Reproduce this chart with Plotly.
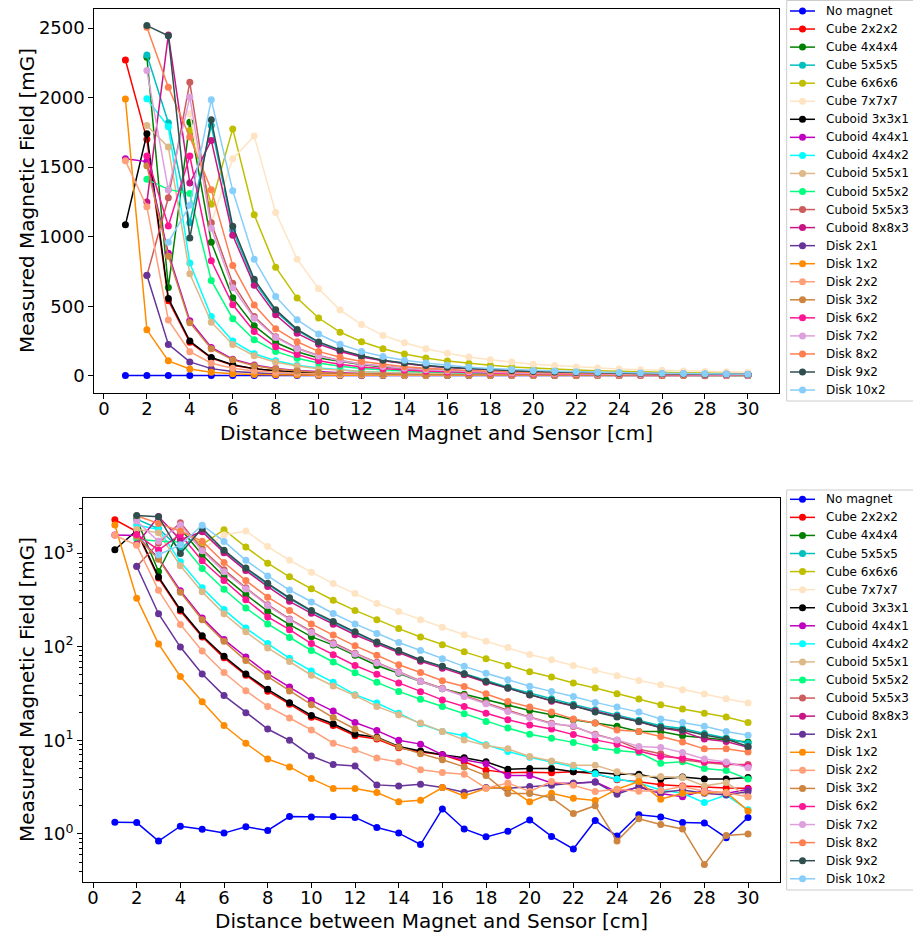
import plotly.graph_objects as go

# Distance between magnet and sensor [cm]
distance_cm = list(range(1, 31))

# Measured field [mG] per magnet, one value per distance (None = not measured)
no_magnet = [1.33, 1.32, 0.84, 1.21, 1.12, 1.02, 1.19, 1.09, 1.53, 1.52, 1.53, 1.50, 1.17, 1.02, 0.77,
             1.85, 1.13, 0.93, 1.07, 1.41, 0.94, 0.69, 1.39, 0.95, 1.60, 1.52, 1.32, 1.31, 0.91, 1.50]
cube_2x2x2 = [2270, 1700, 540, 240, 127, 76, 49.5, 33.5, 24.3, 17.6, 14.4, 11.2, 10.3, 8.3, 7.5,
              7.0, 5.9, 4.8, 4.5, 4.55, 4.5, 4.6, 4.4, 3.8, 3.6, 3.35, 3.25, 3.15, 3.1, 3.08]
cube_4x4x4 = [None, 2290, 635, 1823, 960, 560, 360, 239, 172, 128, 104, 81, 63, 52, 42.5,
              35.5, 31, 27, 24, 20.8, 18.7, 16.6, 15.3, 14.1, 12.4, 12.4, 11.2, 10.7, 10.1, 9.6]
cube_5x5x5 = [None, 2307, 1819, 1100, 1800, 1046, 675, 462, 326, 238, 181, 141, 110, 89, 72,
              61, 51.5, 43, 37, 32, 27.7, 24.2, 21.2, 18.6, 16.4, 14.3, 13.4, 11.8, 10.6, 9.3]
cube_6x6x6 = [None, None, None, 1764, 1233, 1775, 1158, 780, 558, 415, 313, 244, 194, 156, 127,
              105, 88, 74.5, 63, 54, 47.4, 41, 36.2, 31.4, 27.6, 24, 21.6, 19.5, 17.7, 15.5]
cube_7x7x7 = [None, None, None, 1884, 1100, 1561, 1723, 1173, 838, 625, 472, 369, 290, 237, 194,
              161, 134, 114, 98, 82.5, 72.6, 63, 55.8, 49, 43.6, 39.2, 34.7, 31.2, 27.8, 25]
cuboid_3x3x1 = [1085, 1740, 556, 249, 131, 79, 51, 35, 25.2, 18.4, 15, 11.6, 10.8, 8.6, 7.7,
                7.0, 6.5, 5.9, 4.9, 5.0, 5.0, 4.6, 4.55, 4.35, 4.35, 3.85, 4.05, 3.87, 3.85, 4.0]
cuboid_4x4x1 = [1560, 1540, 880, 396, 203, 119, 77.6, 51.4, 37, 26.7, 20.5, 15.5, 12.7, 10.0, 9.1,
                7.0, 6.2, 5.6, 4.2, 4.2, 3.5, 3.45, 3.6, 2.8, 3.15, 2.7, 2.5, 2.9, 2.7, 3.0]
cuboid_4x4x2 = [None, 1991, 1790, 810, 425, 249, 158, 108, 75, 55, 41.6, 30.7, 25, 19.5, 15,
                12.4, 11.2, 8.95, 7.6, 6.6, 5.9, 5.2, 4.4, 3.85, 3.5, 2.95, 2.72, 2.16, 2.6, 1.81]
cuboid_5x5x1 = [None, 1800, 1644, 733, 385, 225, 144, 97, 69.5, 49.5, 38, 30, 23, 18.7, 15.3,
                12.4, 10.1, 8.8, 8.1, 6.7, 6.0, 5.4, 5.4, 4.6, 4.1, 4.1, 4.0, 3.26, 3.54, 2.5]
cuboid_5x5x2 = [None, 1412, 1340, 1310, 685, 410, 259, 175, 125, 91, 68.6, 52.5, 41.6, 33.3, 27.4,
                23, 19.2, 15.9, 13.5, 11.6, 10.5, 9.5, 8.4, 7.8, 7.4, 5.7, 5.9, 5.0, 4.75, 3.85]
cuboid_5x5x3 = [None, 720, 1280, 2110, 1100, 665, 425, 281, 198, 146, 110, 85, 68, 54, 43,
                36, 30, 25, 21, 17.8, 15.2, 14, 11.6, 10.0, 8.0, 7.2, 6.2, 5.8, 5.5, 5.5]
cuboid_8x8x3 = [None, 1249, 2451, 1386, 1692, 1010, 650, 438, 305, 227, 174, 134, 107, 87, 70,
                59, 50, 41.6, 36, 30.5, 26.2, 23.2, 20.5, 18, 15.8, 13.6, 12.4, 10.3, 9.7, 8.4]
disk_2x1 = [None, 722, 225, 99, 51, 30, 19.7, 13.2, 10, 6.8, 5.5, 5.3, 3.34, 3.24, 3.4,
            3.13, 2.79, 3.13, 3.08, 3.2, 3.3, 3.5, 3.57, 2.66, 3.2, 2.77, 2.95, 2.72, 2.6, 2.84]
disk_1x2 = [1990, 330, 107, 48, 25.8, 14.4, 9.3, 6.3, 5.2, 3.9, 3.05, 3.05, 2.77, 2.2, 2.29,
            3.13, 2.55, 3.08, 3.15, 2.2, 2.72, 2.41, 2.27, 3.0, 3.62, 2.35, 2.72, 2.77, 2.79, 1.76]
disk_2x2 = [1545, 1215, 400, 173, 90, 53, 33.8, 23, 17.3, 12.9, 9.3, 7.9, 6.45, 5.85, 4.84,
            4.53, 4.35, 3.08, 3.5, 2.84, 3.62, 3.3, 2.84, 3.0, 2.85, 2.9, 3.2, 2.85, 2.75, 2.5]
disk_3x2 = [None, 1510, 860, 381, 194, 114, 71, 48, 33.6, 24, 17.5, 13.2, 10.6, 8.5, 7.2,
            6.2, 5.2, 4.2, 2.7, 2.7, 2.44, 1.65, 2.0, 0.84, 1.45, 1.26, 1.13, 0.47, 0.96, 1.0]
disk_6x2 = [None, 1580, 1077, 1580, 827, 510, 318, 208, 152, 108, 82, 63, 50.6, 41, 33,
            27, 23, 19.5, 16.6, 14.6, 13.2, 11.5, 10.1, 9.1, 7.7, 6.7, 6.45, 5.9, 5.7, 5.3]
disk_7x2 = [None, 2194, 1335, 2003, 1060, 633, 414, 275, 194, 142, 107, 83.6, 67, 53, 42.5,
            35.5, 29.4, 24.5, 20.3, 17.5, 14.9, 14.3, 11.4, 10.1, 8.6, 8.4, 7.4, 6.3, 5.85, 5.1]
disk_8x2 = [None, 2505, 2075, 1717, 1338, 793, 508, 338, 244, 175, 133, 102, 81, 64, 53,
            43.3, 37.6, 31.4, 26, 22.7, 20, 16.9, 15.3, 12.9, 12.4, 11, 9.6, 8.1, 8.1, 7.5]
disk_9x2 = [None, 2518, 2445, 990, 1840, 1074, 693, 475, 333, 243, 186, 144, 112, 91, 72.6,
            61.6, 51.4, 42.5, 36.2, 30.7, 26.7, 23.4, 20.1, 17.7, 15.9, 13.7, 12.9, 11.4, 10.3, 8.6]
disk_10x2 = [None, None, 960, 1225, 1984, 1330, 837, 570, 403, 300, 226, 175, 138, 111, 91,
             74.5, 61.6, 52, 44.4, 37.8, 33.3, 29.4, 25.4, 22.7, 20, 16.9, 15.5, 14.1, 12.4, 11.3]

series = [
    ("No magnet", no_magnet, "#0000ff"),
    ("Cube 2x2x2", cube_2x2x2, "#ff0000"),
    ("Cube 4x4x4", cube_4x4x4, "#008000"),
    ("Cube 5x5x5", cube_5x5x5, "#00bfbf"),
    ("Cube 6x6x6", cube_6x6x6, "#bfbf00"),
    ("Cube 7x7x7", cube_7x7x7, "#ffe4c4"),
    ("Cuboid 3x3x1", cuboid_3x3x1, "#000000"),
    ("Cuboid 4x4x1", cuboid_4x4x1, "#bf00bf"),
    ("Cuboid 4x4x2", cuboid_4x4x2, "#00ffff"),
    ("Cuboid 5x5x1", cuboid_5x5x1, "#deb887"),
    ("Cuboid 5x5x2", cuboid_5x5x2, "#00ff7f"),
    ("Cuboid 5x5x3", cuboid_5x5x3, "#cd5c5c"),
    ("Cuboid 8x8x3", cuboid_8x8x3, "#c71585"),
    ("Disk 2x1", disk_2x1, "#663399"),
    ("Disk 1x2", disk_1x2, "#ff8c00"),
    ("Disk 2x2", disk_2x2, "#ffa07a"),
    ("Disk 3x2", disk_3x2, "#cd853f"),
    ("Disk 6x2", disk_6x2, "#ff1493"),
    ("Disk 7x2", disk_7x2, "#dda0dd"),
    ("Disk 8x2", disk_8x2, "#ff7f50"),
    ("Disk 9x2", disk_9x2, "#2f4f4f"),
    ("Disk 10x2", disk_10x2, "#87cefa"),
]

W, H = 913, 937
FONT = "DejaVu Sans"

fig = go.Figure()
for name, values, color in series:
    xs = [d for d, v in zip(distance_cm, values) if v is not None]
    ys = [v for v in values if v is not None]
    for xa, ya in (("x", "y"), ("x2", "y2")):
        fig.add_trace(go.Scatter(
            x=xs, y=ys, name=name, mode="lines+markers",
            line=dict(color=color, width=1.5),
            marker=dict(color=color, size=7),
            xaxis=xa, yaxis=ya, showlegend=False,
        ))


def px_x(p):
    return p / W


def px_y(p):
    return 1 - p / H


axis_common = dict(
    showline=True, mirror=True, linecolor="black", linewidth=1,
    ticks="outside", ticklen=5, tickwidth=1, tickcolor="black",
    showgrid=False, zeroline=False,
    tickfont=dict(family=FONT, size=18, color="black"),
)

x_ticks = list(range(0, 31, 2))
lin_ticks = [0, 500, 1000, 1500, 2000, 2500]
log_ticks = [1, 10, 100, 1000]
log_tick_text = ["10<sup>0</sup>", "10<sup>1</sup>", "10<sup>2</sup>", "10<sup>3</sup>"]
log_minor = [m * 10 ** e for e in range(-1, 4) for m in range(2, 10)]

fig.update_layout(
    width=W, height=H,
    margin=dict(l=0, r=0, t=0, b=0),
    paper_bgcolor="white", plot_bgcolor="white",
    font=dict(family=FONT, color="black"),
    showlegend=False,
    xaxis=dict(domain=[px_x(94.3), px_x(779)], range=[-0.45, 31.45], anchor="y",
               tickvals=x_ticks, ticklabelstandoff=-6, **axis_common),
    yaxis=dict(domain=[px_y(393.1), px_y(8.6)], range=[-125, 2640], anchor="x",
               tickvals=lin_ticks, **axis_common),
    xaxis2=dict(domain=[px_x(83.2), px_x(779.7)], range=[-0.45, 31.45], anchor="y2",
                tickvals=x_ticks, ticklabelstandoff=-6, **axis_common),
    yaxis2=dict(domain=[px_y(882.4), px_y(498.2)], type="log", range=[-0.518, 3.586], anchor="x2",
                tickvals=log_ticks, ticktext=log_tick_text,
                minor=dict(tickvals=log_minor, ticks="outside", ticklen=3, tickcolor="black",
                           showgrid=False),
                **axis_common),
)

title_font = dict(family=FONT, size=20, color="black")
fig.add_annotation(text="Measured Magnetic Field [mG]", textangle=-90, showarrow=False,
                   xref="paper", yref="paper", x=px_x(27), y=px_y(201),
                   xanchor="center", yanchor="middle", font=title_font)
fig.add_annotation(text="Measured Magnetic Field [mG]", textangle=-90, showarrow=False,
                   xref="paper", yref="paper", x=px_x(27), y=px_y(690),
                   xanchor="center", yanchor="middle", font=title_font)
fig.add_annotation(text="Distance between Magnet and Sensor [cm]", showarrow=False,
                   xref="paper", yref="paper", x=px_x(436.6), y=px_y(433),
                   xanchor="center", yanchor="middle", font=title_font)
fig.add_annotation(text="Distance between Magnet and Sensor [cm]", showarrow=False,
                   xref="paper", yref="paper", x=px_x(431.5), y=px_y(921),
                   xanchor="center", yanchor="middle", font=title_font)


def add_key(box_top, box_bottom, first_row, row_step):
    """Legend box beside a panel: one line-and-dot swatch plus label per magnet."""
    fig.add_shape(type="rect", xref="paper", yref="paper",
                  x0=px_x(786.7), x1=px_x(930), y0=px_y(box_bottom), y1=px_y(box_top),
                  line=dict(color="#cccccc", width=1), fillcolor="rgba(255,255,255,0.8)",
                  layer="above")
    for i, (name, _, color) in enumerate(series):
        yc = first_row + i * row_step
        fig.add_shape(type="line", xref="paper", yref="paper",
                      x0=px_x(790), x1=px_x(815), y0=px_y(yc), y1=px_y(yc),
                      line=dict(color=color, width=1.5), layer="above")
        fig.add_shape(type="circle", xref="paper", yref="paper",
                      x0=px_x(799), x1=px_x(806), y0=px_y(yc + 3.5), y1=px_y(yc - 3.5),
                      fillcolor=color, line=dict(color=color, width=0), layer="above")
        fig.add_annotation(text=name, showarrow=False, xref="paper", yref="paper",
                           x=px_x(825), y=px_y(yc), xanchor="left", yanchor="middle",
                           borderpad=0, font=dict(family=FONT, size=12, color="black"))


add_key(0.5, 401, 11, 18.05)
add_key(490, 890, 499.3, 18.07)

fig.write_html("out.html")
